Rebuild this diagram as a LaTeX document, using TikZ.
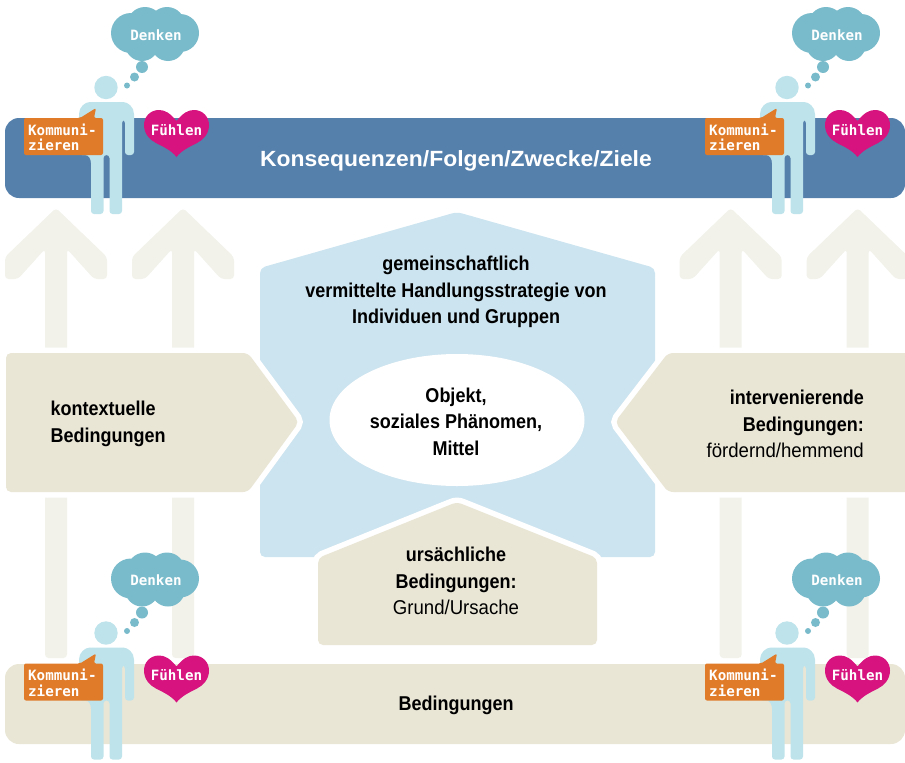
\documentclass[tikz,border=0pt]{standalone}
\usepackage{fontspec}
\setmainfont{Liberation Sans}
\newfontfamily\condfont[FakeStretch=0.90]{Liberation Sans}
\newfontfamily\wideregular[FakeStretch=0.93]{Liberation Sans}
\newfontfamily\widefont[FakeStretch=1.04]{Liberation Sans}
\newfontfamily\labelfont{DejaVu Sans Mono}
\definecolor{barblue}{HTML}{5580AC}
\definecolor{sand}{HTML}{E9E6D6}
\definecolor{paleblue}{HTML}{CCE4EF}
\definecolor{arrowgrey}{HTML}{F2F2EB}
\definecolor{figblue}{HTML}{BEE3EA}
\definecolor{cloudblue}{HTML}{7ABBCB}
\definecolor{talkorange}{HTML}{E07B2A}
\definecolor{heartpink}{HTML}{D6137E}

\begin{document}
\begin{tikzpicture}[x=1pt,y=-1pt,
                     up arrow/.style={fill=arrowgrey,rounded corners=3.5pt},
                     sand box/.style={preaction={draw=white,line width=11pt},fill=sand,rounded corners=5pt},
                     main text/.style={font=\bfseries\condfont\fontsize{20}{26.5}\selectfont,text=black,align=center,inner sep=0pt},
                     small label/.style={font=\bfseries\labelfont\fontsize{14.2}{15.5}\selectfont,text=white,inner sep=0pt}
                    ]
   \useasboundingbox (0,0) rectangle (905,763);
   \clip (0,0) rectangle (905,763);

   % the four arrows run behind the boxes
   \foreach \ax in {56,183,730.7,857.7}
     \fill[up arrow,shift={(\ax,0)}]
       (-11,658) -- (-11,249) -- (-38,279) -- (-51,279) -- (-51,257) -- (0,208)
       -- (51,257) -- (51,279) -- (38,279) -- (11,249) -- (11,658) -- cycle;

   % bars
   \fill[barblue,rounded corners=14pt] (5,118) rectangle (905,198);
   \fill[sand,rounded corners=14pt] (5,664) rectangle (905,744);

   % centre
   \fill[paleblue,rounded corners=5pt] (457,212) -- (655,268) -- (655,557) -- (260,557) -- (260,268) -- cycle;
   \fill[white] (457,420) ellipse [x radius=127.5,y radius=66];

   \path[sand box] (6,353) -- (248,353) -- (299,422) -- (248,492) -- (6,492) -- cycle;
   \path[sand box] (925,353) -- (668,353) -- (615,422) -- (668,492) -- (925,492) -- cycle;
   \path[sand box] (318,558) -- (457,502) -- (597,558) -- (597,645) -- (318,645) -- cycle;

   % texts
   \node[font=\bfseries\widefont\fontsize{22}{24}\selectfont,text=white,inner sep=0pt] (ziele) at (456,161) {Konsequenzen/Folgen/Zwecke/Ziele};
   \node[main text] (bedingungen) at (456,705.5) {Bedingungen};
   \node[main text] (strategie) at (456,292) {gemeinschaftlich\\vermittelte Handlungsstrategie von\\Individuen und Gruppen};
   \node[main text] (objekt) at (456,421.5) {Objekt,\\soziales Phänomen,\\Mittel};
   \node[main text,align=left,anchor=west] (kontext) at (50.5,424) {kontextuelle\\Bedingungen};
   \node[main text,align=right,anchor=east] (interv) at (864,424) {intervenierende\\Bedingungen:\\{\mdseries\wideregular fördernd/hemmend}};
   \node[main text] (ursache) at (456,581) {ursächliche\\Bedingungen:\\{\mdseries\wideregular Grund/Ursache}};

   % four persons, same drawing
   \foreach \i/\dx/\dy in {a/0/0,b/681/0,c/0/545.5,d/681/545.5}
   {
   \begin{scope}[shift={(\dx,\dy)}]
     \fill[figblue] (106,87.5) circle (11.7);
     \fill[figblue,rounded corners=3pt] (91,214) -- (91,160) -- (88,155) -- (79,155) -- (79,117)
        .. controls (79,107) and (85,102) .. (93,102) -- (120,102)
        .. controls (128,102) and (134,107) .. (134,117) -- (134,155) -- (125,155) -- (125,120) -- (122,120)
        -- (122,214) -- (109.5,214) -- (109.5,155) -- (103.5,155) -- (103.5,214) -- cycle;
     % talk
     \fill[talkorange,rounded corners=2pt] (24,118) -- (80,118) -- (96,108) -- (94,118) -- (103,118) -- (103,155) -- (24,155) -- cycle;
     \node[small label,align=left,anchor=west] (talk\i) at (28,137.5) {Kommuni-\\zieren};
     % heart
     \fill[heartpink] (176.5,121) .. controls (170,113) and (165,110) .. (159,110)
        .. controls (150,110) and (144,117) .. (144,125) .. controls (144,134) and (150,140) .. (156,143)
        .. controls (164,147) and (172,151) .. (176.5,157) .. controls (181,151) and (189,147) .. (197,143)
        .. controls (203,140) and (209,134) .. (209,125) .. controls (209,117) and (203,110) .. (194,110)
        .. controls (188,110) and (183,113) .. (176.5,121) -- cycle;
     \node[small label] (feel\i) at (176.5,130) {Fühlen};
     % cloud
     \fill[cloudblue] (131,33) circle (20) (145,25) circle (18) (167,25) circle (18) (180,33) circle (19)
        (142,44) circle (17) (168,44) circle (17) (155,35) ellipse [x radius=30,y radius=18];
     \fill[cloudblue] (142,67) circle (6) (134.5,77) circle (4.5) (127,85.5) circle (3);
     \node[small label] (think\i) at (156,35) {Denken};
   \end{scope}
   }
 \end{tikzpicture}
\end{document}
